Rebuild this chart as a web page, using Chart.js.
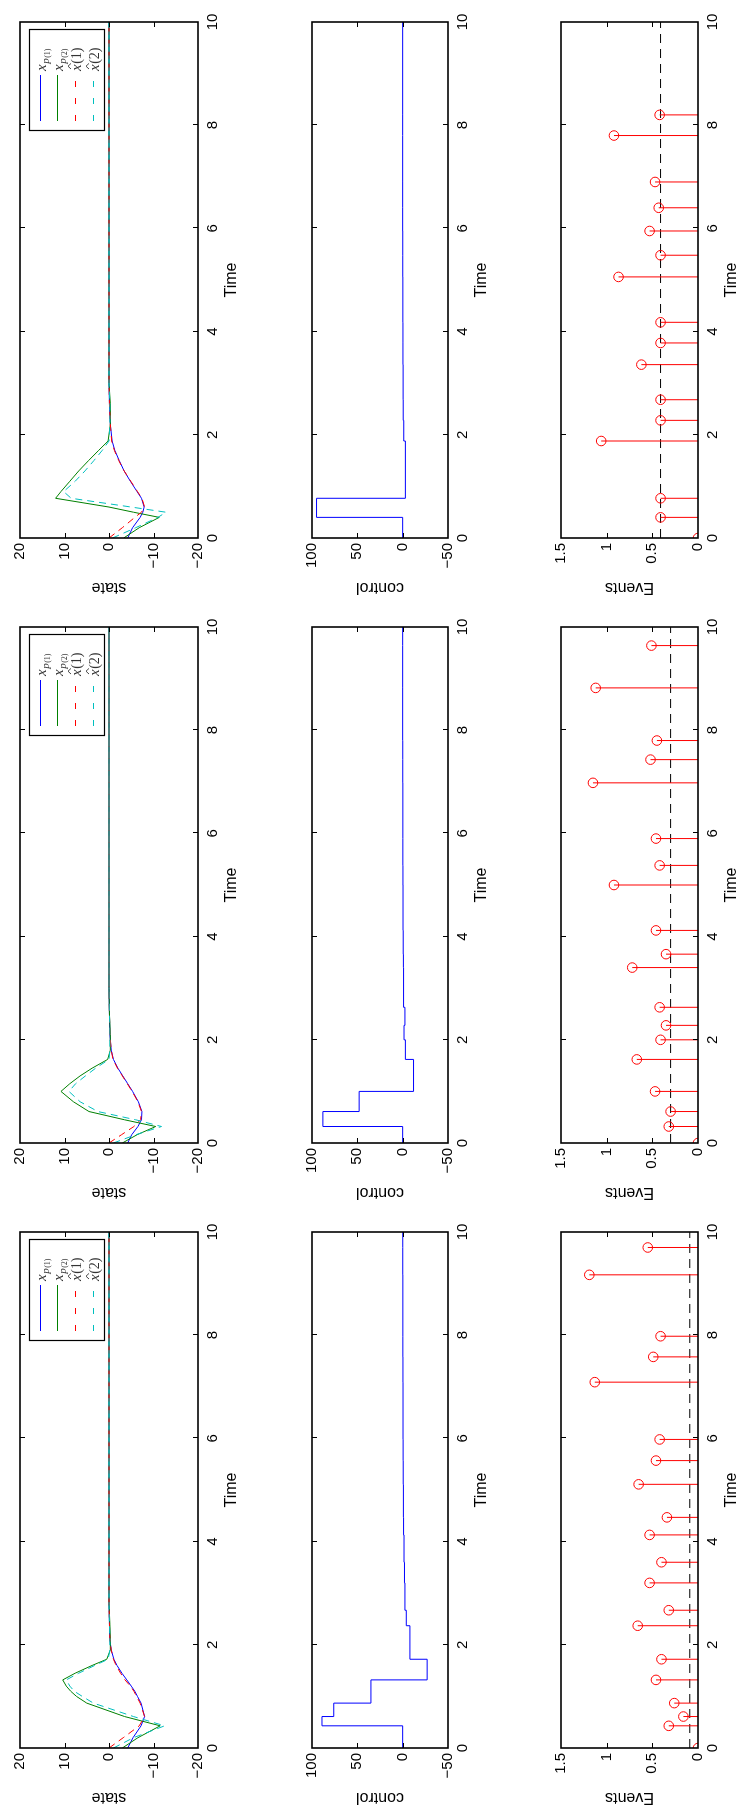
<!DOCTYPE html>
<html>
<head>
<meta charset="utf-8">
<script src="https://cdn.jsdelivr.net/npm/chart.js@4.4.1/dist/chart.umd.min.js"></script>
<style>
  html, body { margin: 0; padding: 0; background: #fff; width: 741px; height: 1809px; overflow: hidden; }
  /* the figure is laid out landscape and turned a quarter turn counter-clockwise */
  #fig { position: absolute; left: 0; top: 0; width: 1809px; height: 741px;
         transform-origin: 0 0; transform: translate(0, 1809px) rotate(-90deg); }
  #fig canvas { position: absolute; }
</style>
</head>
<body>
<div id="fig"></div>
<script>
// --- TICKS ---
const timeTicks = [0, 2, 4, 6, 8, 10];
const stateTicks = [-20, -10, 0, 10, 20];
const controlTicks = [-50, 0, 50, 100];
const eventTicks = [0, 0.5, 1, 1.5];

// --- RUN A ---
const stateTimeA = [0, 0.2, 0.43, 0.61, 0.87, 1.0, 1.1, 1.2, 1.32, 1.45, 1.6, 1.72, 1.9, 2.1, 2.4, 2.8, 3.5, 10];
const xp1A = [-4.2, -5.4, -7.2, -8.0, -7.2, -6.4, -5.8, -5.0, -4.0, -2.9, -1.8, -1.1, -0.5, -0.2, -0.1, 0, 0, 0];
const xp2A = [-3, -6.5, -11.5, -3.5, 5, 7.3, 8.6, 9.6, 10.4, 7.6, 3.8, 0.5, -0.3, -0.3, -0.2, 0, 0, 0];
const xh1A = [0, -3.2, -6.8, -8.0, -7.0, -6.2, -5.6, -4.8, -3.6, -2.6, -1.6, -1.0, -0.5, -0.2, -0.1, 0, 0, 0];
const xh2A = [-1, -5.5, -12.5, -5.5, 3.5, 6, 7.8, 8.8, 9.6, 6.8, 3.2, 0.2, -0.2, -0.2, -0.1, 0, 0, 0];
const evtTimeA = [0, 0.43, 0.61, 0.87, 1.32, 1.72, 2.37, 2.67, 3.2, 3.6, 4.13, 4.47, 5.11, 5.57, 5.98, 7.09, 7.58, 7.98, 9.17, 9.7];
const evtSizeA = [0, 0.32, 0.16, 0.26, 0.46, 0.40, 0.66, 0.32, 0.53, 0.40, 0.53, 0.34, 0.65, 0.46, 0.42, 1.13, 0.49, 0.41, 1.19, 0.55];
const ctrlA = [0, 89, 76, 35, -27, -8, -4, -2.5, -2, -1.5, -1, -0.8, -0.6, -0.5, -0.4, -0.3, -0.2, -0.2, -0.1, -0.1];
const thresholdA = [0.09];

// --- RUN B ---
const stateTimeB = [0, 0.16, 0.32, 0.45, 0.61, 0.8, 1.0, 1.15, 1.3, 1.45, 1.62, 1.8, 2.1, 2.5, 3.0, 10];
const xp1B = [-4.2, -5.1, -6.5, -7.3, -7.4, -6.6, -5.3, -4.2, -3.1, -2.0, -1.0, -0.5, -0.2, -0.1, 0, 0];
const xp2B = [-3, -6.3, -10.5, -3.5, 4.5, 8, 10.8, 8.8, 6.5, 3.8, 0.3, -0.3, -0.3, -0.1, 0, 0];
const xh1B = [0, -2.8, -5.6, -7.1, -7.3, -6.5, -5.2, -4.1, -3.0, -1.9, -0.9, -0.5, -0.2, -0.1, 0, 0];
const xh2B = [-1, -6, -11.8, -6, 2.5, 6.5, 9, 7.5, 5.3, 3, 0, -0.2, -0.2, -0.1, 0, 0];
const evtTimeB = [0, 0.32, 0.61, 1.0, 1.62, 2.0, 2.28, 2.63, 3.4, 3.66, 4.12, 5.0, 5.38, 5.9, 6.98, 7.43, 7.8, 8.82, 9.64];
const evtSizeB = [0, 0.32, 0.30, 0.47, 0.67, 0.41, 0.35, 0.42, 0.72, 0.35, 0.46, 0.92, 0.42, 0.46, 1.15, 0.52, 0.45, 1.12, 0.51];
const ctrlB = [0, 88, 48, -12, -3, -1.5, -2.5, -1, -0.8, -0.6, -0.4, -0.3, -0.2, -0.2, -0.1, -0.1, 0, 0, 0];
const thresholdB = [0.30];

// --- RUN C ---
const stateTimeC = [0, 0.2, 0.40, 0.5, 0.6, 0.77, 0.9, 1.1, 1.3, 1.5, 1.7, 1.88, 2.2, 2.6, 3.0, 10];
const xp1C = [-4.2, -5.3, -7.0, -7.6, -7.9, -7.3, -6.3, -4.8, -3.4, -2.3, -1.3, -0.7, -0.3, -0.1, 0, 0];
const xp2C = [-3.3, -6.8, -11.3, -5.5, 0, 12, 10.8, 8.8, 6.8, 4.6, 2.3, 0.2, -0.3, -0.3, 0, 0];
const xh1C = [0, -3.0, -5.8, -7.3, -8.0, -7.4, -6.4, -4.9, -3.4, -2.2, -1.2, -0.6, -0.3, -0.1, 0, 0];
const xh2C = [-0.8, -6, -11, -12.8, -5, 8.5, 10.2, 7.6, 5.4, 3.4, 1.5, 0, -0.2, -0.2, 0, 0];
const evtTimeC = [0, 0.40, 0.77, 1.88, 2.28, 2.68, 3.36, 3.78, 4.18, 5.06, 5.48, 5.95, 6.4, 6.9, 7.8, 8.2];
const evtSizeC = [0, 0.41, 0.41, 1.06, 0.41, 0.41, 0.62, 0.41, 0.41, 0.87, 0.41, 0.53, 0.43, 0.47, 0.92, 0.42];
const ctrlC = [0, 95, -3, -1.2, -0.6, -0.5, -0.3, -0.3, -0.2, -0.1, -0.1, 0, 0, 0, 0, 0];
const thresholdC = [0.41];

// --- LAYOUT (landscape figure, pixels) ---
const FONT = '"Liberation Sans", Arial, Helvetica, sans-serif';
const SERIF = '"Liberation Serif", "DejaVu Serif", serif';
const colLeft = [61, 666, 1271];
const PW = 516;
const rows = { state: { top: 18, h: 180 }, control: { top: 310, h: 138 }, events: { top: 559, h: 139 } };
const ML = 64, MR = 16, MT = 12, MB = 50, TICK = 5;

const BLUE = '#0000ff', GREEN = '#008000', RED = '#ff0000', CYAN = '#00bfbf';

// --- HELPERS ---
function pts(xs, ys) { return xs.map((x, i) => ({ x: x, y: ys[i] })); }

function stairs(ts, us) {
    const d = pts(ts, us);
    d.push({ x: 10, y: us[us.length - 1] });
    return d;
}

function stems(ts, vs) {
    const d = [];
    ts.forEach((t, i) => { d.push({ x: t, y: 0 }, { x: t, y: vs[i] }, { x: t, y: null }); });
    return d;
}

const fmt = v => String(v).replace('-', '\u2212');

// box with inward ticks on all four sides
const frame = {
    id: 'frame',
    afterDatasetsDraw(chart) {
        const { ctx, chartArea: a, scales: { x, y } } = chart;
        ctx.save();
        ctx.strokeStyle = '#000';
        ctx.lineWidth = 1;
        ctx.beginPath();
        x.ticks.forEach(t => {
            if (t.value <= x.min || t.value >= x.max) return;
            const px = Math.round(x.getPixelForValue(t.value)) + 0.5;
            ctx.moveTo(px, a.bottom); ctx.lineTo(px, a.bottom - TICK);
            ctx.moveTo(px, a.top); ctx.lineTo(px, a.top + TICK);
        });
        y.ticks.forEach(t => {
            if (t.value <= y.min || t.value >= y.max) return;
            const py = Math.round(y.getPixelForValue(t.value)) + 0.5;
            ctx.moveTo(a.left, py); ctx.lineTo(a.left + TICK, py);
            ctx.moveTo(a.right, py); ctx.lineTo(a.right - TICK, py);
        });
        ctx.stroke();
        ctx.lineWidth = 1.6;
        ctx.strokeRect(a.left, a.top, a.right - a.left, a.bottom - a.top);
        ctx.restore();
    }
};

// legend entries: [colour, dashed, hat, index]
const legendItems = [
    [BLUE, false, false, 1],
    [GREEN, false, false, 2],
    [RED, true, true, 1],
    [CYAN, true, true, 2]
];

function drawMath(ctx, x, y, hat, idx) {
    ctx.fillStyle = '#333';
    ctx.textBaseline = 'alphabetic';
    ctx.textAlign = 'left';
    ctx.font = 'italic 15px ' + SERIF;
    ctx.fillText('x', x, y);
    let cx = x + ctx.measureText('x').width + 0.5;
    if (hat) {
        ctx.strokeStyle = '#333';
        ctx.lineWidth = 0.9;
        ctx.beginPath();
        ctx.moveTo(x + 2, y - 9.5); ctx.lineTo(x + 4.8, y - 12.5); ctx.lineTo(x + 7.6, y - 9.5);
        ctx.stroke();
        ctx.font = '14px ' + SERIF;
        ctx.fillText('(' + idx + ')', cx, y);
    } else {
        ctx.font = 'italic 11px ' + SERIF;
        ctx.fillText('p', cx, y + 3);
        cx += ctx.measureText('p').width + 0.5;
        ctx.font = '8px ' + SERIF;
        ctx.fillText('(' + idx + ')', cx, y + 4.5);
    }
}

const stateLegend = {
    id: 'stateLegend',
    afterDraw(chart) {
        const { ctx, chartArea: a } = chart;
        const w = 101, h = 75;
        const bx = a.right - 8 - w, by = a.top + 9;
        ctx.save();
        ctx.fillStyle = '#fff';
        ctx.fillRect(bx, by, w, h);
        ctx.strokeStyle = '#000';
        ctx.lineWidth = 1.2;
        ctx.strokeRect(bx + 0.5, by + 0.5, w, h);
        legendItems.forEach((it, i) => {
            const ly = Math.round(by + 10.5 + i * 17.8) + 0.5;
            ctx.strokeStyle = it[0];
            ctx.lineWidth = 1;
            ctx.setLineDash(it[1] ? [6, 11] : []);
            ctx.beginPath();
            ctx.moveTo(bx + 10, ly); ctx.lineTo(bx + w - 45, ly);
            ctx.stroke();
            ctx.setLineDash([]);
            drawMath(ctx, bx + w - 41, ly + 5, it[2], it[3]);
        });
        ctx.restore();
    }
};

function scalesFor(yMin, yMax, yTicks, yTitle) {
    return {
        x: {
            type: 'linear', min: 0, max: 10, offset: false,
            afterBuildTicks: s => { s.ticks = timeTicks.map(v => ({ value: v })); },
            afterFit: s => { s.height = MB; },
            grid: { display: false, drawTicks: false },
            border: { display: false },
            ticks: { color: '#000', font: { family: FONT, size: 15 }, padding: 6, maxRotation: 0, autoSkip: false, callback: fmt },
            title: { display: true, text: 'Time', color: '#000', font: { family: FONT, size: 16 }, padding: { top: 0, bottom: 6.4 } }
        },
        y: {
            type: 'linear', min: yMin, max: yMax,
            afterBuildTicks: s => { s.ticks = yTicks.map(v => ({ value: v })); },
            afterFit: s => { s.width = ML; },
            grid: { display: false, drawTicks: false },
            border: { display: false },
            ticks: { color: '#000', font: { family: FONT, size: 15 }, padding: 5, autoSkip: false, callback: fmt },
            title: { display: true, text: yTitle, color: '#000', font: { family: FONT, size: 16 }, padding: { top: 5.4, bottom: 0 } }
        }
    };
}

function makeChart(col, row, datasets, yMin, yMax, yTicks, yTitle, extra) {
    const r = rows[row];
    const cv = document.createElement('canvas');
    const w = ML + PW + MR, h = MT + r.h + MB;
    cv.width = w; cv.height = h;
    cv.style.width = w + 'px'; cv.style.height = h + 'px';
    cv.style.left = (colLeft[col] - ML) + 'px';
    cv.style.top = (r.top - MT) + 'px';
    document.getElementById('fig').appendChild(cv);
    return new Chart(cv, {
        type: 'line',
        data: { datasets: datasets },
        options: {
            responsive: false, animation: false, devicePixelRatio: 1, events: [],
            layout: { padding: { left: 0, top: MT, right: MR, bottom: 0 } },
            plugins: { legend: { display: false }, tooltip: { enabled: false } },
            elements: { point: { radius: 0 }, line: { tension: 0 } },
            scales: scalesFor(yMin, yMax, yTicks, yTitle)
        },
        plugins: [frame].concat(extra || [])
    });
}

function lineSet(data, color, dashed, order) {
    return { data: data, borderColor: color, borderWidth: 1, borderDash: dashed ? [7, 5] : [], pointRadius: 0, fill: false, order: order };
}

const runs = [
    { t: stateTimeA, xp1: xp1A, xp2: xp2A, xh1: xh1A, xh2: xh2A, et: evtTimeA, ev: evtSizeA, u: ctrlA, thr: thresholdA },
    { t: stateTimeB, xp1: xp1B, xp2: xp2B, xh1: xh1B, xh2: xh2B, et: evtTimeB, ev: evtSizeB, u: ctrlB, thr: thresholdB },
    { t: stateTimeC, xp1: xp1C, xp2: xp2C, xh1: xh1C, xh2: xh2C, et: evtTimeC, ev: evtSizeC, u: ctrlC, thr: thresholdC }
];

runs.forEach((run, c) => {
    makeChart(c, 'state', [
        lineSet(pts(run.t, run.xp1), BLUE, false, 4),
        lineSet(pts(run.t, run.xp2), GREEN, false, 3),
        lineSet(pts(run.t, run.xh1), RED, true, 2),
        lineSet(pts(run.t, run.xh2), CYAN, true, 1)
    ], -20, 20, stateTicks, 'state', [stateLegend]);

    makeChart(c, 'control', [
        Object.assign(lineSet(stairs(run.et, run.u), BLUE, false, 1), { stepped: 'before' })
    ], -50, 100, controlTicks, 'control');

    makeChart(c, 'events', [
        { data: [{ x: 0, y: run.thr[0] }, { x: 10, y: run.thr[0] }], borderColor: '#000', borderWidth: 1, borderDash: [9, 6], pointRadius: 0, order: 3 },
        { data: stems(run.et, run.ev), borderColor: RED, borderWidth: 1, pointRadius: 0, spanGaps: false, order: 2 },
        { data: pts(run.et, run.ev), showLine: false, pointRadius: 4.8, pointStyle: 'circle', pointBorderColor: RED, pointBackgroundColor: 'rgba(0,0,0,0)', pointBorderWidth: 1, order: 1 }
    ], 0, 1.5, eventTicks, 'Events');
});
</script>
</body>
</html>
